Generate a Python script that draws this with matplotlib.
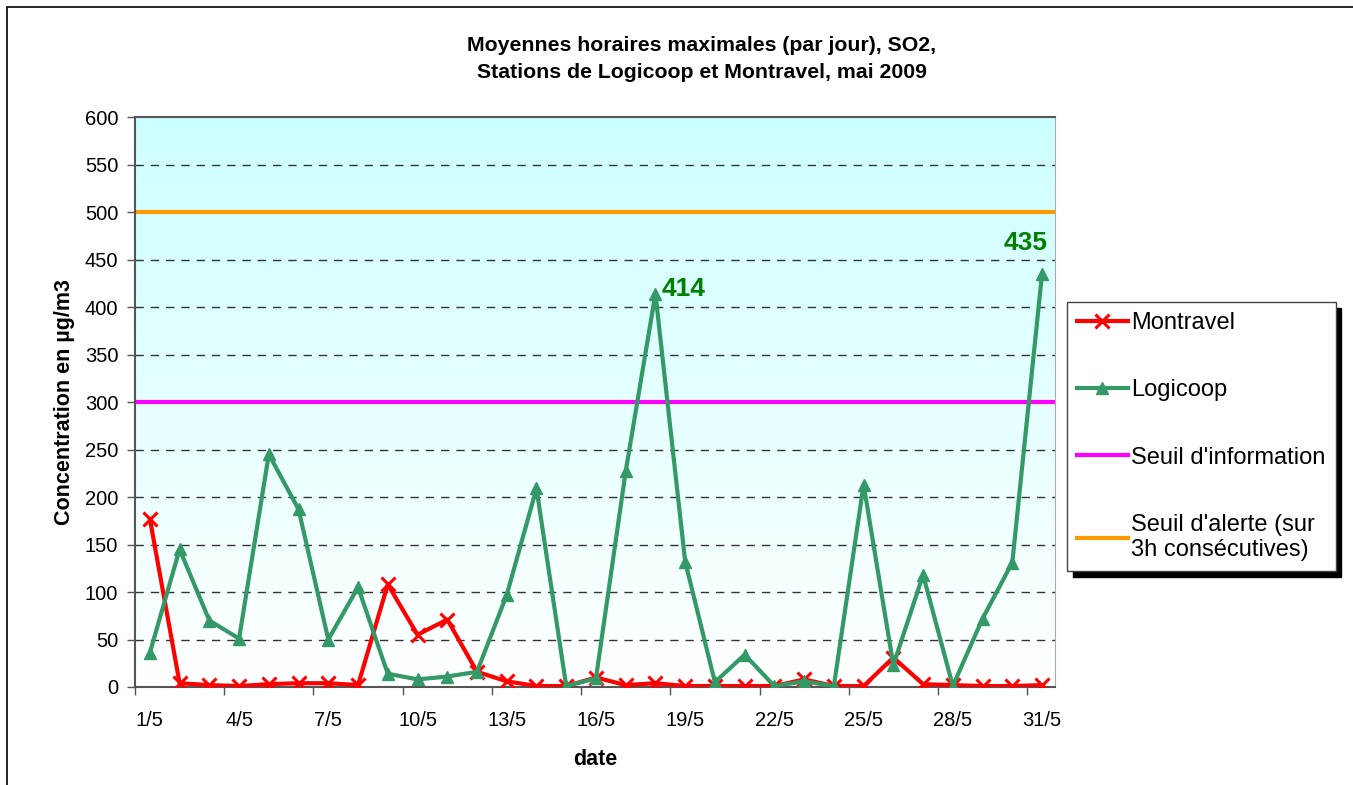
import numpy as np
import matplotlib
matplotlib.use("Agg")
import matplotlib.pyplot as plt
from matplotlib.colors import LinearSegmentedColormap
from matplotlib.patches import Rectangle

plt.rcParams['font.family'] = ['Liberation Sans', 'DejaVu Sans']

days = list(range(1, 32))
labels = ["%d/5" % d for d in days]
montravel = [177, 4, 2, 1, 3, 4, 4, 2, 108, 55, 71, 16, 6, 1, 1, 10, 2, 4, 1, 1,
             1, 1, 8, 1, 1, 31, 3, 2, 1, 1, 2]
logicoop = [36, 145, 70, 51, 245, 187, 50, 105, 14, 8, 11, 16, 97, 209, 1, 9, 227, 414,
            132, 5, 34, 1, 6, 1, 213, 23, 118, 1, 72, 131, 435]
seuil_info = 300
seuil_alerte = 500
annotated = {18: 414, 31: 435}

W, H = 1353, 785
fig = plt.figure(figsize=(W / 100, H / 100), dpi=100)
ax = fig.add_axes([135 / W, 1 - 687 / H, 920 / W, 570 / H])

# outer chart border (top/left visible)
fig.patches.append(Rectangle((7 / W, -0.1), 1.2, (H - 7) / H + 0.1, transform=fig.transFigure,
                             fill=False, edgecolor='black', linewidth=1.2))

# gradient background
cmap = LinearSegmentedColormap.from_list("bg", ["#ffffff", "#ccffff"])
grad = np.linspace(0, 1, 256).reshape(-1, 1)
ax.imshow(grad, cmap=cmap, origin='lower', aspect='auto', extent=[0, 1, 0, 1],
          transform=ax.transAxes, zorder=0)

x = np.array(days)
ax.axhline(seuil_alerte, color='#ff9900', lw=3, zorder=2)
ax.axhline(seuil_info, color='#ff00ff', lw=3, zorder=2)
l1, = ax.plot(x, montravel, color='#ff0000', lw=3, marker='x', ms=10, mew=2.2, zorder=3)
l2, = ax.plot(x, logicoop, color='#339966', lw=3, marker='^', ms=9, zorder=4)

for d, v in annotated.items():
    if d == 31:
        ax.text(d + 0.2, v + 20, str(v), color='#008000', fontsize=19, fontweight='bold',
                ha='right', va='bottom', zorder=5)
    else:
        ax.text(d + 0.2, v - 8, str(v), color='#008000', fontsize=19, fontweight='bold',
                ha='left', va='bottom', zorder=5)

ax.set_xlim(0.564, 31.436)
ax.set_ylim(0, 600)
ax.set_yticks(np.arange(0, 601, 50))
for yv in range(50, 600, 50):
    ax.axhline(yv, color='#333333', lw=1, ls=(0, (6, 5)), zorder=1)

ax.set_xticks(np.arange(0.5, 32, 3))
ax.set_xticklabels([])
ax.set_xticks(x[::3], minor=True)
ax.set_xticklabels(labels[::3], minor=True)
ax.tick_params(axis='x', which='major', length=6, width=1, color='#555555', direction='out')
ax.tick_params(axis='x', which='minor', length=0, pad=17, labelsize=14.5)
ax.tick_params(axis='y', length=6, width=1, color='#555555', direction='out', pad=6, labelsize=14.5)

for s in ['left', 'bottom', 'top']:
    ax.spines[s].set_color('#555555')
    ax.spines[s].set_linewidth(1.5)
ax.spines['right'].set_color('#aaaaaa')

ax.set_ylabel('Concentration en µg/m3', fontsize=15.5, fontweight='bold', labelpad=7)
ax.set_xlabel('date', fontsize=15.5, fontweight='bold', labelpad=14)

fig.text(702 / W, 1 - 59 / H, "Moyennes horaires maximales (par jour), SO2,\nStations de Logicoop et Montravel, mai 2009",
         ha='center', va='center', fontsize=15.3, fontweight='bold', linespacing=1.5)

h3 = plt.Line2D([], [], color='#ff00ff', lw=3)
h4 = plt.Line2D([], [], color='#ff9900', lw=3)
leg = fig.legend([l1, l2, h3, h4],
                 ['Montravel', 'Logicoop', "Seuil d'information", "Seuil d'alerte (sur\n3h consécutives)"],
                 loc='upper left', bbox_to_anchor=(1067 / W, 1 - 302 / H), fontsize=17,
                 frameon=True, fancybox=False, edgecolor='#444444', framealpha=1,
                 labelspacing=1.92, handlelength=2.15, handletextpad=0.15, borderpad=0.42,
                 borderaxespad=0, shadow={'color': 'black', 'alpha': 1, 'ox': 4, 'oy': -4})
leg.get_frame().set_linewidth(1)

fig.savefig("out.png", dpi=100)
